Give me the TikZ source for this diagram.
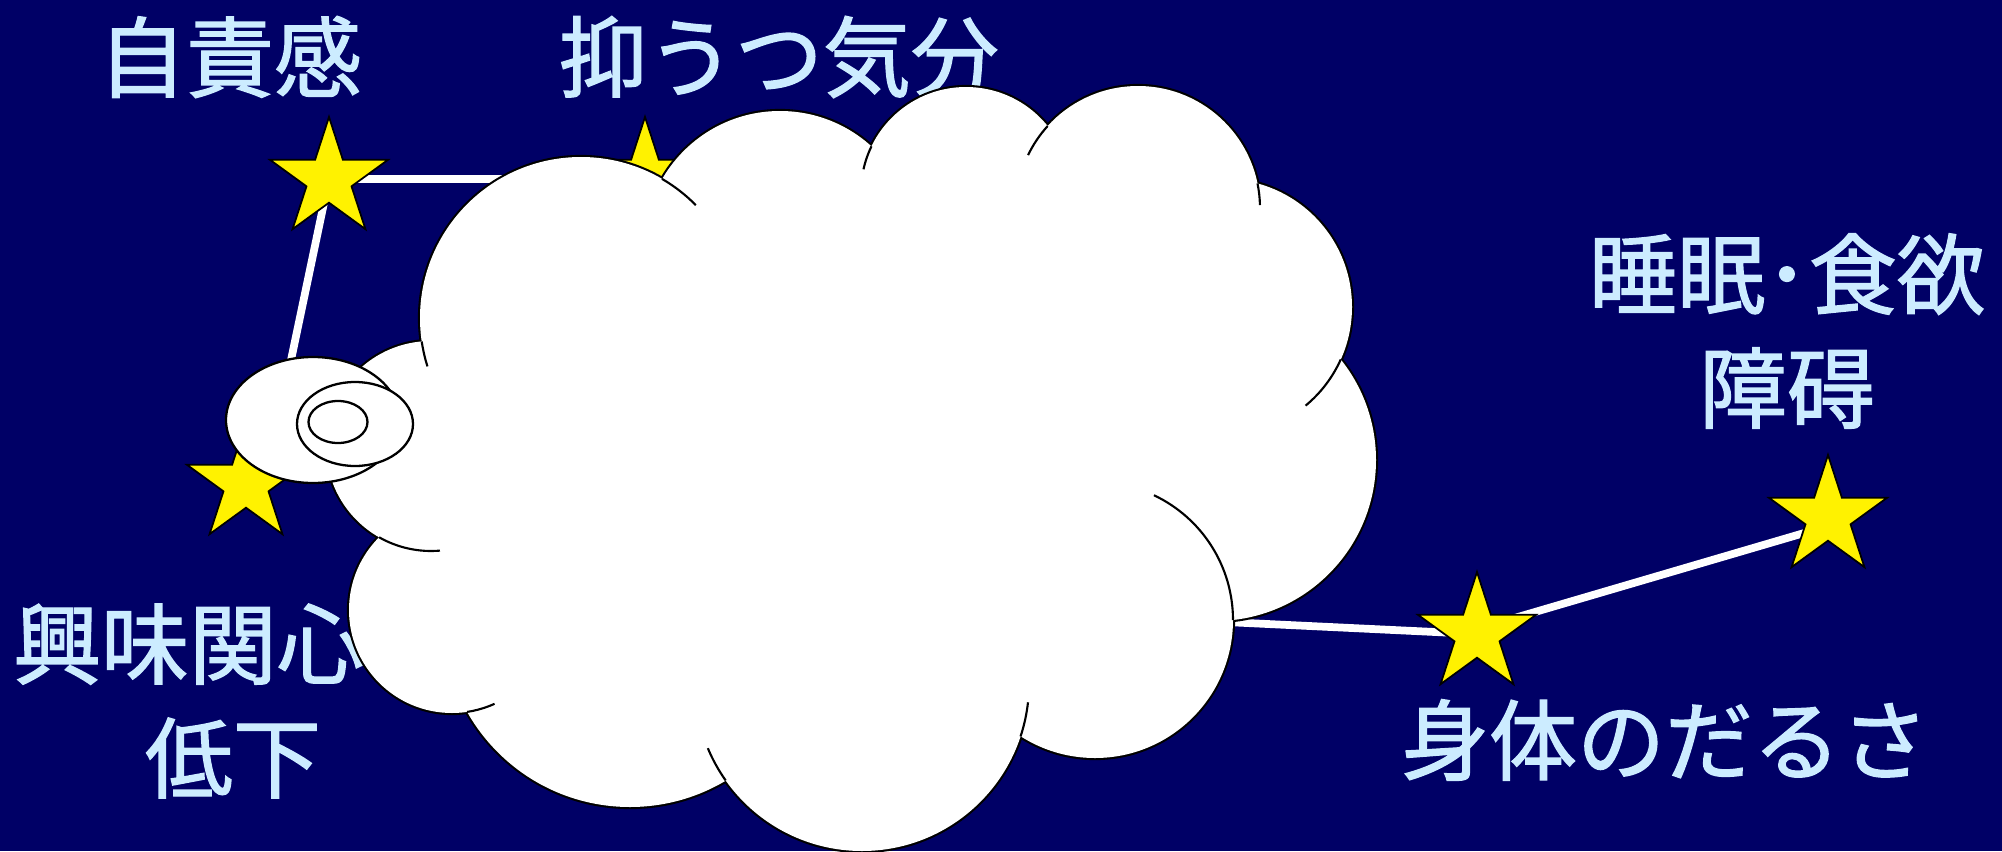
\documentclass[tikz,border=0pt]{standalone}
\usepackage{fontspec}
\newfontfamily\jpfont[FakeBold=1.5]{Noto Sans CJK JP}
\usetikzlibrary{shapes.geometric}

\definecolor{night}{RGB}{0,0,102}
\definecolor{labelblue}{RGB}{204,236,255}

\pgfdeclarelayer{bg}
\pgfdeclarelayer{links}
\pgfsetlayers{bg,links,main}

% puffs of the cloud: centre x / centre y / radius
\def\puffs{581/318/161, 780/247/136, 966/192/105, 1138/208/122, 1224/307/128,
  1215/460/161, 1095/620/138, 862/684/167, 630/620/187, 452/610/103, 431/446/105}
% inner fold of a puff: centre, radius, start and end angle
\newcommand\cloudseam[5]{\draw[seam] (#1,#2) ++(#4:#3) arc[start angle=#4, end angle=#5, radius=#3];}

\begin{document}
\begin{tikzpicture}[
    x=0.01cm, y=-0.01cm,
  symptom/.style={text=labelblue, font=\jpfont\fontsize{25}{32.4}\selectfont, align=center, inner sep=0pt},
  starnode/.style={star, star points=5, star point ratio=2.618, minimum size=1.24cm, inner sep=0pt, draw=black, line width=0.5pt, fill=yellow},
  link/.style={white, line width=2.2pt},
  seam/.style={black, line width=0.6pt},
  bubble/.style={draw=black, fill=white, line width=0.65pt}
]

% Background
\begin{pgfonlayer}{bg}
\fill[night] (0,0) rectangle (2002,851);
\end{pgfonlayer}
\useasboundingbox (0,0) rectangle (2002,851);

% Symptoms
\node[symptom] (t1) at (230,57) {自責感};
\node[symptom] (t2) at (779,57) {抑うつ気分};
\node[symptom] (t3) at (1787,331) {睡眠･食欲\\障碍};
\node[symptom] (t4) at (189,701) {興味関心\\\hspace*{1em}低下};
\node[symptom] (t5) at (1665,740) {身体のだるさ};

% Stars
\node[starnode] (s1) at (329,179) {};
\node[starnode] (s2) at (645,179) {};
\node[starnode] (s3) at (246,484) {};
\node[starnode] (s4) at (1477,634) {};
\node[starnode] (s5) at (1828,517) {};
\coordinate (core) at (1100,616);

% Links, behind the stars
\begin{pgfonlayer}{links}
\draw[link] (s1.center) -- (s2.center);
\draw[link] (s1.center) -- ([xshift=1.9mm]s3.center);
\draw[link] (core) -- (s4.center);
\draw[link] ([yshift=0.5mm]s4.center) -- ([yshift=-0.9mm]s5.center);
\end{pgfonlayer}

% Cloud: outline of every puff, then white over the inside
\foreach \cx/\cy/\r in \puffs
  \draw[line width=1.2pt] (\cx,\cy) circle[radius=\r];
\fill[white] (581,318) -- (780,247) -- (966,192) -- (1138,208) -- (1224,307) -- (1215,460)
  -- (1095,620) -- (862,684) -- (630,620) -- (452,610) -- (431,446) -- cycle;
\foreach \cx/\cy/\r in \puffs
  \fill[white] (\cx,\cy) circle[radius=\r];

% Folds between the puffs
\cloudseam{581}{318}{161}{-59.8}{-44.5}
\cloudseam{581}{318}{161}{171.6}{162.5}
\cloudseam{966}{192}{105}{205.8}{192.5}
\cloudseam{1138}{208}{122}{222.2}{205.7}
\cloudseam{1138}{208}{122}{-11.6}{-1.4}
\cloudseam{1224}{307}{128}{24.2}{50.4}
\cloudseam{1095}{620}{138}{-64.7}{0}
\cloudseam{862}{684}{167}{18.3}{6.3}
\cloudseam{862}{684}{167}{144.7}{157.4}
\cloudseam{452}{610}{103}{81.6}{65.6}
\cloudseam{431}{446}{105}{119.6}{85.1}

% Thought bubbles
\draw[bubble] (313,420) ellipse[x radius=87, y radius=63];
\draw[bubble] (355,424) ellipse[x radius=58, y radius=42];
\draw[bubble] (338,422) ellipse[x radius=29.5, y radius=21];

\end{tikzpicture}
\end{document}
